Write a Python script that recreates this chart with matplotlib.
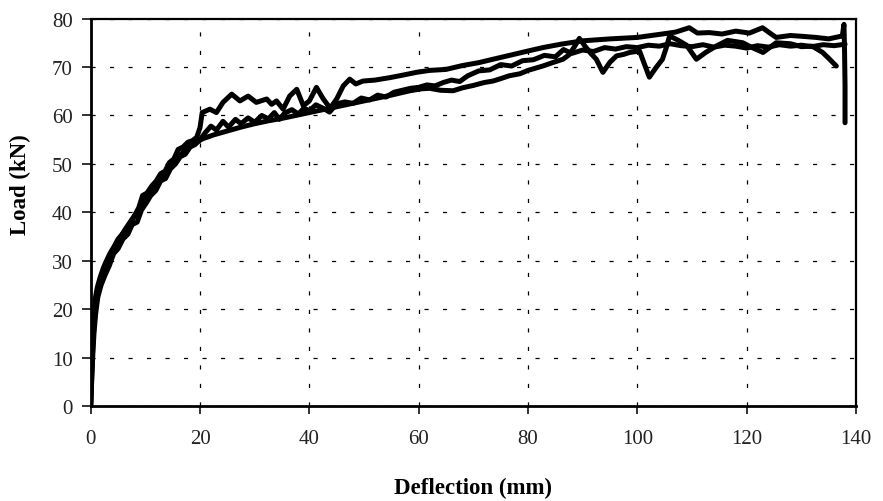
import matplotlib
matplotlib.use("Agg")
import matplotlib.pyplot as plt

# curve A: noisy at first, upper band 20-60, top line beyond 60, drop at 138
a_x = [0, 0.1, 0.2, 0.35, 0.5, 0.8, 1.2, 1.7, 2.3, 2.8, 3.5, 4.3, 5.0, 5.8, 6.6,
       7.4, 8.1, 8.8, 9.5, 10.3, 11.2, 12.0, 12.8, 13.6, 14.4, 15.2, 16.0, 16.9,
       17.8, 18.6, 19.4, 20.0, 20.4, 21.8, 23.0, 24.2, 25.8, 27.3, 28.8, 30.3,
       32.2, 33.1, 34.0, 35.2, 36.4, 37.7, 38.9, 40.0, 41.3, 42.5, 43.8, 45.0,
       46.2, 47.4, 48.5, 49.8, 52.0, 54.7, 57.0, 59.6, 62.0, 65.0, 68.0, 71.0,
       73.6, 77.0, 80.0, 82.7, 86.0, 90.0, 95.0, 100.0, 104.5, 107.0, 109.5,
       111.0, 113.2, 115.5, 118.0, 120.5, 122.9, 124.0, 125.4, 128.0, 130.5,
       132.7, 135.0, 137.5, 137.8, 137.9, 138.0, 138.0]
a_y = [0, 4, 9, 14, 18.5, 22, 24.5, 26.5, 28.5, 29.8, 31.5, 33, 34.5, 35.5, 36.5,
       38, 39.5, 41, 43.5, 44, 45.5, 46.5, 48, 48.5, 50.3, 51, 53, 53.5, 54.5,
       54.8, 55.5, 57.5, 60.6, 61.3, 60.6, 62.7, 64.4, 63.0, 64.0, 62.7, 63.4,
       62.3, 63.0, 61.3, 64.0, 65.4, 62.0, 63.0, 65.8, 63.5, 61.5, 63.4, 66.1,
       67.5, 66.5, 67.1, 67.3, 67.8, 68.3, 68.9, 69.3, 69.5, 70.3, 70.9, 71.6,
       72.5, 73.3, 74.0, 74.7, 75.4, 75.8, 76.1, 76.8, 77.2, 78.1, 77.0, 77.1,
       76.8, 77.4, 77.0, 78.1, 77.2, 76.1, 76.5, 76.3, 76.1, 75.8, 76.4, 78.8,
       74.0, 66.0, 58.5]

# curve B: smooth lower band up to 60, noisy beyond
b_x = [0, 0.15, 0.3, 0.5, 0.8, 1.2, 1.8, 2.5, 3.3, 4.2, 5.2, 6.3, 7.5, 8.8,
       10.2, 11.6, 13.0, 14.5, 16.0, 17.5, 19.0, 20.5, 22.5, 25.0, 27.5, 30.0,
       32.5, 35.0, 37.5, 40.0, 42.5, 45.0, 47.5, 50.0, 52.5, 55.0, 58.4, 60.5,
       62.0, 64.0, 66.3, 68.0, 70.0, 72.0, 73.6, 75.0, 76.6, 78.5, 80.0, 81.5,
       82.7, 84.5, 86.4, 87.5, 88.5, 89.4, 90.5, 91.5, 92.5, 93.7, 95.0, 96.2,
       97.5, 98.6, 100.4, 101.5, 102.2, 103.5, 104.6, 105.3, 105.9, 107.5,
       109.0, 110.8, 112.5, 114.4, 116.5, 119.3, 121.0, 123.0, 125.4, 128.0,
       130.0, 132.0, 133.9, 135.0, 136.4]
b_y = [0, 5, 10, 15, 19.5, 23, 26, 28.5, 30.5, 32.5, 34.5, 36.5, 38.5, 40.5,
       43, 45.5, 47.5, 49.5, 51.5, 53, 54.3, 55.2, 56.0, 56.8, 57.6, 58.3, 58.9,
       59.4, 60.0, 60.6, 61.2, 61.8, 62.4, 63.0, 63.6, 64.2, 65.1, 65.5, 65.6,
       65.2, 65.1, 65.7, 66.2, 66.8, 67.1, 67.6, 68.2, 68.6, 69.3, 69.8, 70.2,
       70.9, 71.6, 72.5, 74.2, 75.9, 74.2, 72.8, 71.6, 68.9, 71.0, 72.3, 72.6,
       73.0, 73.3, 70.0, 67.9, 70.0, 71.6, 74.0, 76.4, 75.5, 74.5, 71.6, 73.0,
       74.3, 75.5, 75.0, 74.0, 73.0, 75.0, 74.8, 74.2, 74.3, 73.0, 71.8, 70.2]

# curve C: noisy lower band, flat ~74 at the end
c_x = [0, 0.1, 0.25, 0.4, 0.6, 0.9, 1.3, 1.9, 2.6, 3.4, 4.2, 5.0, 5.9, 6.8,
       7.6, 8.5, 9.3, 10.2, 11.0, 11.9, 12.8, 13.7, 14.6, 15.5, 16.4, 17.3,
       18.2, 19.1, 20.0, 21.0, 22.0, 23.0, 24.2, 25.2, 26.5, 27.5, 28.8, 30.0,
       31.3, 32.5, 33.6, 34.5, 35.5, 36.8, 38.0, 39.0, 40.0, 41.2, 42.5, 43.7,
       45.0, 46.5, 48.0, 49.5, 51.0, 52.5, 54.0, 55.5, 57.0, 58.5, 60.0, 61.5,
       63.0, 64.5, 66.0, 67.5, 69.0, 71.0, 73.0, 75.0, 77.0, 79.0, 81.0, 83.0,
       85.0, 86.5, 88.0, 90.0, 92.0, 94.0, 96.0, 98.0, 100.0, 102.0, 104.0,
       106.0, 108.0, 110.0, 112.0, 114.0, 116.0, 118.0, 120.0, 122.0, 124.0,
       126.0, 128.0, 130.0, 132.0, 134.0, 136.0, 138.0]
c_y = [0, 3, 7, 11, 15, 19, 22.5, 25, 27, 29, 31.5, 32.5, 34.5, 35.5, 37.5, 38,
       40.5, 42, 43.5, 44.5, 46.5, 47, 49, 50, 51.5, 52, 53.5, 54, 55, 56.5,
       57.8, 57.0, 58.8, 57.6, 59.2, 58.3, 59.5, 58.6, 60.0, 59.3, 60.6, 59.2,
       60.5, 61.2, 60.3, 61.5, 61.0, 62.2, 61.5, 60.7, 62.4, 62.8, 62.5, 63.6,
       63.2, 64.2, 63.8, 64.8, 65.2, 65.6, 65.8, 66.3, 66.1, 66.8, 67.3, 67.0,
       68.2, 69.2, 69.4, 70.5, 70.2, 71.3, 71.5, 72.4, 72.1, 73.6, 72.8, 73.5,
       73.2, 74.0, 73.7, 74.2, 74.0, 74.5, 74.3, 74.8, 74.4, 74.2, 74.6, 74.1,
       74.5, 74.3, 73.9, 74.4, 74.1, 74.6, 74.3, 74.5, 74.2, 74.6, 74.4, 74.7]

x_ticks = [0, 20, 40, 60, 80, 100, 120, 140]
y_ticks = [0, 10, 20, 30, 40, 50, 60, 70, 80]

plt.rcParams['font.family'] = ['Liberation Serif', 'DejaVu Serif']

fig = plt.figure(figsize=(8.83, 5.02), dpi=100)
ax = fig.add_axes([0.1027, 0.1886, 0.8667, 0.7725])

for xs, ys in [(c_x, c_y), (b_x, b_y), (a_x, a_y)]:
    ax.plot(xs, ys, color="black", linewidth=3.6, solid_joinstyle="round",
            solid_capstyle="round", zorder=3)

ax.set_xlim(0, 140)
ax.set_ylim(0, 80)
ax.set_xticks(x_ticks)
ax.set_yticks(y_ticks)
ax.grid(True, color="black", linewidth=0.9, linestyle=(0, (3.3, 11.5)))

for side, lw in [("left", 2.0), ("bottom", 2.0), ("top", 1.6), ("right", 1.6)]:
    ax.spines[side].set_linewidth(lw)

ax.tick_params(axis="x", direction="out", length=6, width=1.3, pad=10.5,
               labelsize=15, colors="#222222")
ax.tick_params(axis="y", direction="out", length=6.5, width=1.3, pad=6.5,
               labelsize=15, colors="#222222")

ax.set_xlabel("Deflection (mm)", fontsize=16.5, fontweight="bold")
ax.set_ylabel("Load (kN)", fontsize=16.5, fontweight="bold")
ax.xaxis.set_label_coords(0.5, -0.182)
ax.yaxis.set_label_coords(-0.078, 0.573)

fig.savefig("out.png", dpi=100)
